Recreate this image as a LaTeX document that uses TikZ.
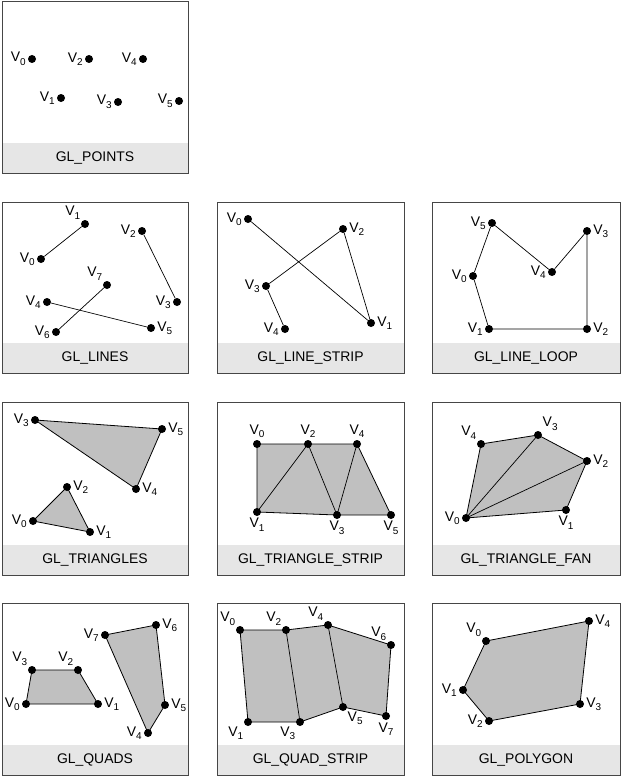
\documentclass[tikz,border=0pt]{standalone}
\usepackage{fontspec}
\setmainfont{Liberation Sans}
\usetikzlibrary{backgrounds}
\definecolor{bandgray}{RGB}{230,230,230}
\definecolor{framegray}{RGB}{70,70,70}
\definecolor{polygray}{RGB}{192,192,192}
% vertex name with a low subscript
\newcommand{\vx}[1]{V\raisebox{-3.5bp}{\fontsize{10}{10}\selectfont #1}}

\begin{document}
\begin{tikzpicture}[x=1bp, y=-1bp, label distance=1.5bp,
  vtx/.style={circle, fill=black, inner sep=0pt, minimum size=8bp},
  lbl/.style={font=\fontsize{14}{14}\selectfont, inner sep=0.5pt},
  title/.style={font=\fontsize{14}{14}\selectfont, inner sep=0pt},
  frame/.style={draw=framegray, line width=0.8bp},
  edge/.style={line width=0.7bp},
  poly/.style={fill=polygray, draw=black, line width=0.8bp, line join=round}]
\useasboundingbox (0,0) rectangle (621,776);

% frames and captions
\foreach \xa/\ya/\xb/\yb/\n/\t in {
    2/1/188/173/points/GL\_POINTS,
    2/202/188/373/lines/GL\_LINES,
    217/202/404/373/strip/GL\_LINE\_STRIP,
    432/202/620/373/loop/GL\_LINE\_LOOP,
    2/402/188/575/tri/GL\_TRIANGLES,
    217/402/404/575/tristrip/GL\_TRIANGLE\_STRIP,
    432/402/620/575/fan/GL\_TRIANGLE\_FAN,
    2/603/188/775/quads/GL\_QUADS,
    217/603/404/775/quadstrip/GL\_QUAD\_STRIP,
    432/603/620/775/polygon/GL\_POLYGON} {
  \fill[bandgray] (\xa,\yb-30) rectangle (\xb,\yb);
  \node[title] (band-\n) at ({(\xa+\xb)/2},\yb-15) {\t};
  \draw[frame] (\xa,\ya) rectangle (\xb,\yb);
}

% GL_POINTS
\node[vtx, label={[lbl]left:\vx{0}}] (p0) at (32,59) {};
\node[vtx, label={[lbl]left:\vx{1}}] (p1) at (61,98) {};
\node[vtx, label={[lbl]left:\vx{2}}] (p2) at (89,59) {};
\node[vtx, label={[lbl]left:\vx{3}}] (p3) at (118,102) {};
\node[vtx, label={[lbl]left:\vx{4}}] (p4) at (143,59) {};
\node[vtx, label={[lbl]left:\vx{5}}] (p5) at (179,101) {};

% GL_LINES
\node[vtx, label={[lbl]left:\vx{0}}] (l0) at (41,259) {};
\node[vtx, label={[lbl]above left:\vx{1}}] (l1) at (85,224) {};
\node[vtx, label={[lbl]left:\vx{2}}] (l2) at (142,231) {};
\node[vtx, label={[lbl]left:\vx{3}}] (l3) at (177,302) {};
\node[vtx, label={[lbl]left:\vx{4}}] (l4) at (47,302) {};
\node[vtx, label={[lbl]right:\vx{5}}] (l5) at (151,328) {};
\node[vtx, label={[lbl]left:\vx{6}}] (l6) at (56,332) {};
\node[vtx, label={[lbl]above left:\vx{7}}] (l7) at (107,285) {};
\draw[edge] (l0) -- (l1);
\draw[edge] (l2) -- (l3);
\draw[edge] (l4) -- (l5);
\draw[edge] (l6) -- (l7);

% GL_LINE_STRIP
\node[vtx, label={[lbl]left:\vx{0}}] (s0) at (248,219) {};
\node[vtx, label={[lbl]right:\vx{1}}] (s1) at (371,323) {};
\node[vtx, label={[lbl]right:\vx{2}}] (s2) at (343,229) {};
\node[vtx, label={[lbl]left:\vx{3}}] (s3) at (266,286) {};
\node[vtx, label={[lbl]left:\vx{4}}] (s4) at (285,329) {};
\draw[edge] (s0) -- (s1) -- (s2) -- (s3) -- (s4);

% GL_LINE_LOOP
\node[vtx, label={[lbl]left:\vx{0}}] (o0) at (473,276) {};
\node[vtx, label={[lbl]left:\vx{1}}] (o1) at (489,329) {};
\node[vtx, label={[lbl]right:\vx{2}}] (o2) at (587,329) {};
\node[vtx, label={[lbl]right:\vx{3}}] (o3) at (587,231) {};
\node[vtx, label={[lbl]left:\vx{4}}] (o4) at (552,272) {};
\node[vtx, label={[lbl]left:\vx{5}}] (o5) at (492,223) {};
\draw[edge] (o0) -- (o1) -- (o2) -- (o3) -- (o4) -- (o5) -- (o0);

% GL_TRIANGLES
\node[vtx, label={[lbl]left:\vx{0}}] (t0) at (33,521) {};
\node[vtx, label={[lbl]right:\vx{1}}] (t1) at (90,532) {};
\node[vtx, label={[lbl]right:\vx{2}}] (t2) at (67,487) {};
\node[vtx, label={[lbl]left:\vx{3}}] (t3) at (35,420) {};
\node[vtx, label={[lbl]right:\vx{4}}] (t4) at (136,489) {};
\node[vtx, label={[lbl]right:\vx{5}}] (t5) at (162,429) {};

% GL_TRIANGLE_STRIP
\node[vtx, label={[lbl]above:\vx{0}}] (ts0) at (257,444) {};
\node[vtx, label={[lbl]below:\vx{1}}] (ts1) at (257,512) {};
\node[vtx, label={[lbl]above:\vx{2}}] (ts2) at (308,444) {};
\node[vtx, label={[lbl]below:\vx{3}}] (ts3) at (337,515) {};
\node[vtx, label={[lbl]above:\vx{4}}] (ts4) at (357,444) {};
\node[vtx, label={[lbl]below:\vx{5}}] (ts5) at (391,515) {};

% GL_TRIANGLE_FAN
\node[vtx, label={[lbl]left:\vx{0}}] (f0) at (466,518) {};
\node[vtx, label={[lbl]below:\vx{1}}] (f1) at (566,510) {};
\node[vtx, label={[lbl]right:\vx{2}}] (f2) at (587,461) {};
\node[vtx, label={[lbl]above right:\vx{3}}] (f3) at (538,435) {};
\node[vtx, label={[lbl]above left:\vx{4}}] (f4) at (481,444) {};

% GL_QUADS
\node[vtx, label={[lbl]left:\vx{0}}] (q0) at (26,704) {};
\node[vtx, label={[lbl]right:\vx{1}}] (q1) at (98,704) {};
\node[vtx, label={[lbl]above left:\vx{2}}] (q2) at (78,670) {};
\node[vtx, label={[lbl]above left:\vx{3}}] (q3) at (32,670) {};
\node[vtx, label={[lbl]left:\vx{4}}] (q4) at (148,733) {};
\node[vtx, label={[lbl]right:\vx{5}}] (q5) at (165,705) {};
\node[vtx, label={[lbl]right:\vx{6}}] (q6) at (156,625) {};
\node[vtx, label={[lbl]left:\vx{7}}] (q7) at (105,635) {};

% GL_QUAD_STRIP
\node[vtx, label={[lbl]above left:\vx{0}}] (qs0) at (240,630) {};
\node[vtx, label={[lbl]below left:\vx{1}}] (qs1) at (248,722) {};
\node[vtx, label={[lbl]above left:\vx{2}}] (qs2) at (286,630) {};
\node[vtx, label={[lbl]below left:\vx{3}}] (qs3) at (300,722) {};
\node[vtx, label={[lbl]above left:\vx{4}}] (qs4) at (328,625) {};
\node[vtx, label={[lbl]below right:\vx{5}}] (qs5) at (343,707) {};
\node[vtx, label={[lbl]above left:\vx{6}}] (qs6) at (391,645) {};
\node[vtx, label={[lbl]below:\vx{7}}] (qs7) at (386,716) {};

% GL_POLYGON
\node[vtx, label={[lbl]above left:\vx{0}}] (g0) at (486,641) {};
\node[vtx, label={[lbl]left:\vx{1}}] (g1) at (463,690) {};
\node[vtx, label={[lbl]left:\vx{2}}] (g2) at (489,721) {};
\node[vtx, label={[lbl]right:\vx{3}}] (g3) at (580,704) {};
\node[vtx, label={[lbl]right:\vx{4}}] (g4) at (589,621) {};

% filled shapes under the vertices
\begin{scope}[on background layer]
\fill[white] (0,0) rectangle (621,776);
\filldraw[poly] (t0.center) -- (t1.center) -- (t2.center) -- cycle;
\filldraw[poly] (t3.center) -- (t4.center) -- (t5.center) -- cycle;
\filldraw[poly] (ts0.center) -- (ts2.center) -- (ts4.center) -- (ts5.center)
  -- (ts3.center) -- (ts1.center) -- cycle;
\draw[edge] (ts1.center) -- (ts2.center) -- (ts3.center) -- (ts4.center);
\filldraw[poly] (f0.center) -- (f1.center) -- (f2.center) -- (f3.center)
  -- (f4.center) -- cycle;
\draw[edge] (f2.center) -- (f0.center) -- (f3.center);
\filldraw[poly] (q0.center) -- (q1.center) -- (q2.center) -- (q3.center) -- cycle;
\filldraw[poly] (q4.center) -- (q5.center) -- (q6.center) -- (q7.center) -- cycle;
\filldraw[poly] (qs0.center) -- (qs2.center) -- (qs4.center) -- (qs6.center)
  -- (qs7.center) -- (qs5.center) -- (qs3.center) -- (qs1.center) -- cycle;
\draw[edge] (qs2.center) -- (qs3.center);
\draw[edge] (qs4.center) -- (qs5.center);
\filldraw[poly] (g0.center) -- (g1.center) -- (g2.center) -- (g3.center)
  -- (g4.center) -- cycle;
\end{scope}
\end{tikzpicture}
\end{document}
